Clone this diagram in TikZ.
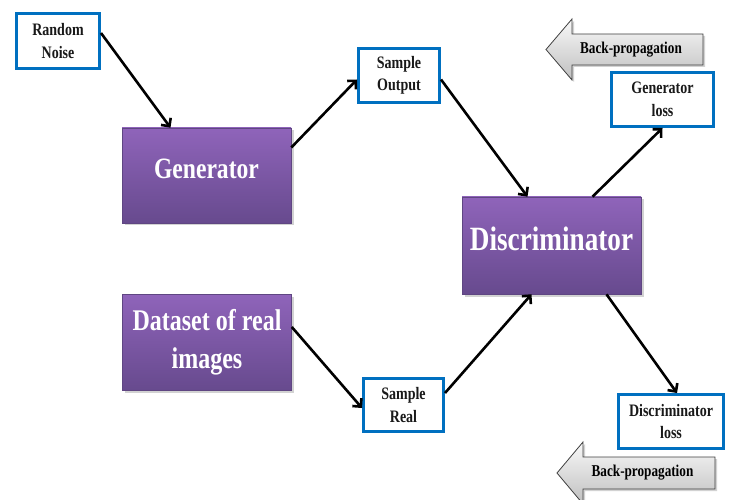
\documentclass[tikz,border=0pt]{standalone}
\usepackage{fontspec}
\setmainfont{Liberation Serif}
\usetikzlibrary{arrows.meta,shadows,calc}
\definecolor{bluebd}{RGB}{0,112,192}
\definecolor{purtop}{RGB}{143,100,186}
\definecolor{purbot}{RGB}{103,74,142}
\definecolor{purline}{RGB}{95,70,130}
\newcommand{\sq}[1]{\scalebox{0.8}[1]{#1}}
\begin{document}
\begin{tikzpicture}[x=1pt,y=-1pt,
 sbox/.style={draw=bluebd, line width=3pt, fill=white, text=black!90,
   font=\bfseries\fontsize{17.5}{22.5}\selectfont, align=center, inner sep=0pt},
 pbox/.style={draw=purline, line width=0.6pt, top color=purtop, bottom color=purbot,
   text=white, align=center, inner sep=0pt,
   drop shadow={shadow xshift=2.5pt, shadow yshift=-2.5pt, opacity=0.35}},
 flow/.style={line width=2.6pt, -{Straight Barb[length=6pt,width=12pt]}},
 bp/.style={draw=gray!50!black, line width=0.8pt, top color=gray!5, bottom color=gray!50,
   drop shadow={shadow xshift=2pt, shadow yshift=-2pt, opacity=0.35}},
 bptext/.style={font=\bfseries\fontsize{16.5}{20}\selectfont, inner sep=0pt}
]
\clip (0,0) rectangle (729,500);
\fill[white] (0,0) rectangle (729,500);

% blue boxes
\node[sbox, minimum width=83pt, minimum height=55pt] (noise) at (58,41) {\sq{Random}\\\sq{Noise}};
\node[sbox, minimum width=81pt, minimum height=54pt] (sout) at (399,75.5) {\sq{Sample}\\\sq{Output}};
\node[sbox, minimum width=102pt, minimum height=54pt] (gloss) at (662.5,99.5) {\sq{Generator}\\\sq{loss}};
\node[sbox, minimum width=80pt, minimum height=53pt] (sreal) at (403.5,405) {\sq{Sample}\\\sq{Real}};
\node[sbox, minimum width=105pt, minimum height=54pt] (dloss) at (671,421.5) {\sq{Discriminator}\\\sq{loss}};

% purple boxes
\node[pbox, minimum width=169pt, minimum height=95pt, font=\bfseries\fontsize{29.5}{36}\selectfont] (gen) at (206.5,175.5) {\raisebox{13pt}{\sq{Generator}}};
\node[pbox, minimum width=179pt, minimum height=97pt, font=\bfseries\fontsize{34}{40}\selectfont] (disc) at (551.5,245.5) {\raisebox{13pt}{\sq{Discriminator}}};
\node[pbox, minimum width=169pt, minimum height=96pt, font=\bfseries\fontsize{30}{38}\selectfont] (data) at (207,342) {\sq{Dataset of real}\\\sq{images}};

% back-propagation arrows
\path[bp] (546,49.5) -- (572,19) -- (572,34) -- (703,34) -- (703,65) -- (572,65) -- (572,80) -- cycle;
\node[bptext] (bp1) at (631,49.5) {\sq{Back-propagation}};
\path[bp] (557,473) -- (583,442) -- (583,457) -- (715,457) -- (715,489) -- (583,489) -- (583,504) -- cycle;
\node[bptext] (bp2) at (642.5,473) {\sq{Back-propagation}};

% connectors
\draw[flow] ([yshift=8pt]noise.east) -- ([xshift=-36pt]gen.north);
\draw[flow] ([yshift=28pt]gen.east) -- ([yshift=-4pt]sout.west);
\draw[flow] ([yshift=-4pt]sout.east) -- ([xshift=-24pt]disc.north);
\draw[flow] ([xshift=41pt]disc.north) -- (gloss.south);
\draw[flow] ([yshift=15pt]data.east) -- ([yshift=-3pt]sreal.west);
\draw[flow] ([yshift=12pt]sreal.east) -- ([xshift=-20pt]disc.south);
\draw[flow] ([xshift=55pt]disc.south) -- ([xshift=6pt]dloss.north);
\end{tikzpicture}
\end{document}
